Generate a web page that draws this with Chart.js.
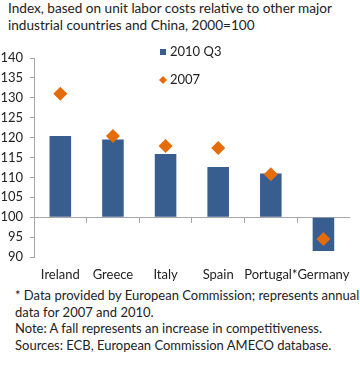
<!DOCTYPE html>
<html>
<head>
<meta charset="utf-8">
<script src="https://cdn.jsdelivr.net/npm/chart.js@4/dist/chart.umd.min.js"></script>
<style>
  html, body { margin: 0; padding: 0; background: #fff; }
  body { width: 360px; height: 367px; position: relative; overflow: hidden; font-family: Lato, "Open Sans", sans-serif; color: #222; }
  #title { position: absolute; left: 8px; top: 0px; font-size: 13.6px; line-height: 17px; }
  #notes { position: absolute; left: 15px; top: 287px; font-size: 13px; line-height: 16.5px; }
  #wrap { position: absolute; left: 0; top: 40px; width: 360px; height: 245px; }
</style>
</head>
<body>
<div id="title">Index, based on unit labor costs relative to other major<br>industrial countries and China, 2000=100</div>
<div id="wrap"><canvas id="c"></canvas></div>
<div id="notes">* Data provided by European Commission; represents annual<br>data for 2007 and 2010.<br>Note: A fall represents an increase in competitiveness.<br>Sources: ECB, European Commission AMECO database.</div>
<script>
const categories = ["Ireland", "Greece", "Italy", "Spain", "Portugal*", "Germany"];
const values2010Q3 = [120.4, 119.5, 115.9, 112.6, 111.0, 91.5];
const values2007 = [131.0, 120.4, 117.9, 117.4, 110.8, 94.5];
const seriesNames = ["2010 Q3", "2007"];
const yTicks = [90, 95, 100, 105, 110, 115, 120, 125, 130, 135, 140];

const BLUE = '#385E90';
const ORANGE = '#E46C0A';
const AXIS = '#A6A6A6';
const FONT = 'Lato, "Open Sans", sans-serif';

const legendPlugin = {
  id: 'customLegend',
  afterDraw(chart) {
    const ctx = chart.ctx;
    ctx.save();
    ctx.font = '13px ' + FONT;
    ctx.textBaseline = 'middle';
    ctx.fillStyle = BLUE;
    ctx.fillRect(160, 9, 6, 6);
    ctx.fillStyle = '#222';
    ctx.fillText(seriesNames[0], 170, 12);
    ctx.fillStyle = ORANGE;
    ctx.beginPath();
    ctx.moveTo(163, 36); ctx.lineTo(167, 40); ctx.lineTo(163, 44); ctx.lineTo(159, 40);
    ctx.closePath(); ctx.fill();
    ctx.fillStyle = '#222';
    ctx.fillText(seriesNames[1], 170, 40);
    ctx.restore();
  }
};

new Chart(document.getElementById('c'), {
  type: 'bar',
  data: {
    labels: categories,
    datasets: [
      {
        type: 'bar',
        label: seriesNames[0],
        data: values2010Q3,
        base: 100,
        backgroundColor: BLUE,
        borderWidth: 0,
        categoryPercentage: 1,
        barPercentage: 0.41,
        xAxisID: 'x',
        order: 2
      },
      {
        type: 'line',
        label: seriesNames[1],
        data: values2007,
        showLine: false,
        pointStyle: 'rectRot',
        pointRadius: 7,
        pointHoverRadius: 7,
        pointBackgroundColor: ORANGE,
        pointBorderWidth: 0,
        backgroundColor: ORANGE,
        borderColor: ORANGE,
        xAxisID: 'x',
        order: 1
      }
    ]
  },
  options: {
    responsive: true,
    maintainAspectRatio: false,
    animation: false,
    layout: { padding: { top: 18, right: 5, left: 0, bottom: 0 } },
    plugins: { legend: { display: false }, tooltip: { enabled: false } },
    scales: {
      x: {
        type: 'category',
        position: { y: 100 },
        offset: true,
        grid: {
          offset: true,
          drawOnChartArea: false,
          drawTicks: true,
          tickLength: 5,
          tickColor: (c) => (c.type === 'tick' ? AXIS : 'transparent')
        },
        border: { display: true, color: AXIS, width: 1 },
        ticks: { display: false }
      },
      x2: {
        type: 'category',
        labels: categories,
        position: 'bottom',
        offset: true,
        grid: { display: false, drawTicks: false },
        border: { display: false },
        ticks: { color: '#222', font: { family: FONT, size: 13 }, padding: 10, maxRotation: 0, autoSkip: false },
        afterFit: (s) => { s.height = 28; }
      },
      y: {
        min: 90,
        max: 140,
        afterBuildTicks: (s) => { s.ticks = yTicks.map(v => ({ value: v })); },
        grid: { drawOnChartArea: false, drawTicks: true, tickLength: 4, color: AXIS },
        border: { display: true, color: AXIS, width: 1 },
        ticks: { color: '#222', font: { family: FONT, size: 13 }, padding: 7 },
        afterFit: (s) => { s.width = 34; }
      }
    }
  },
  plugins: [legendPlugin]
});
</script>
</body>
</html>
